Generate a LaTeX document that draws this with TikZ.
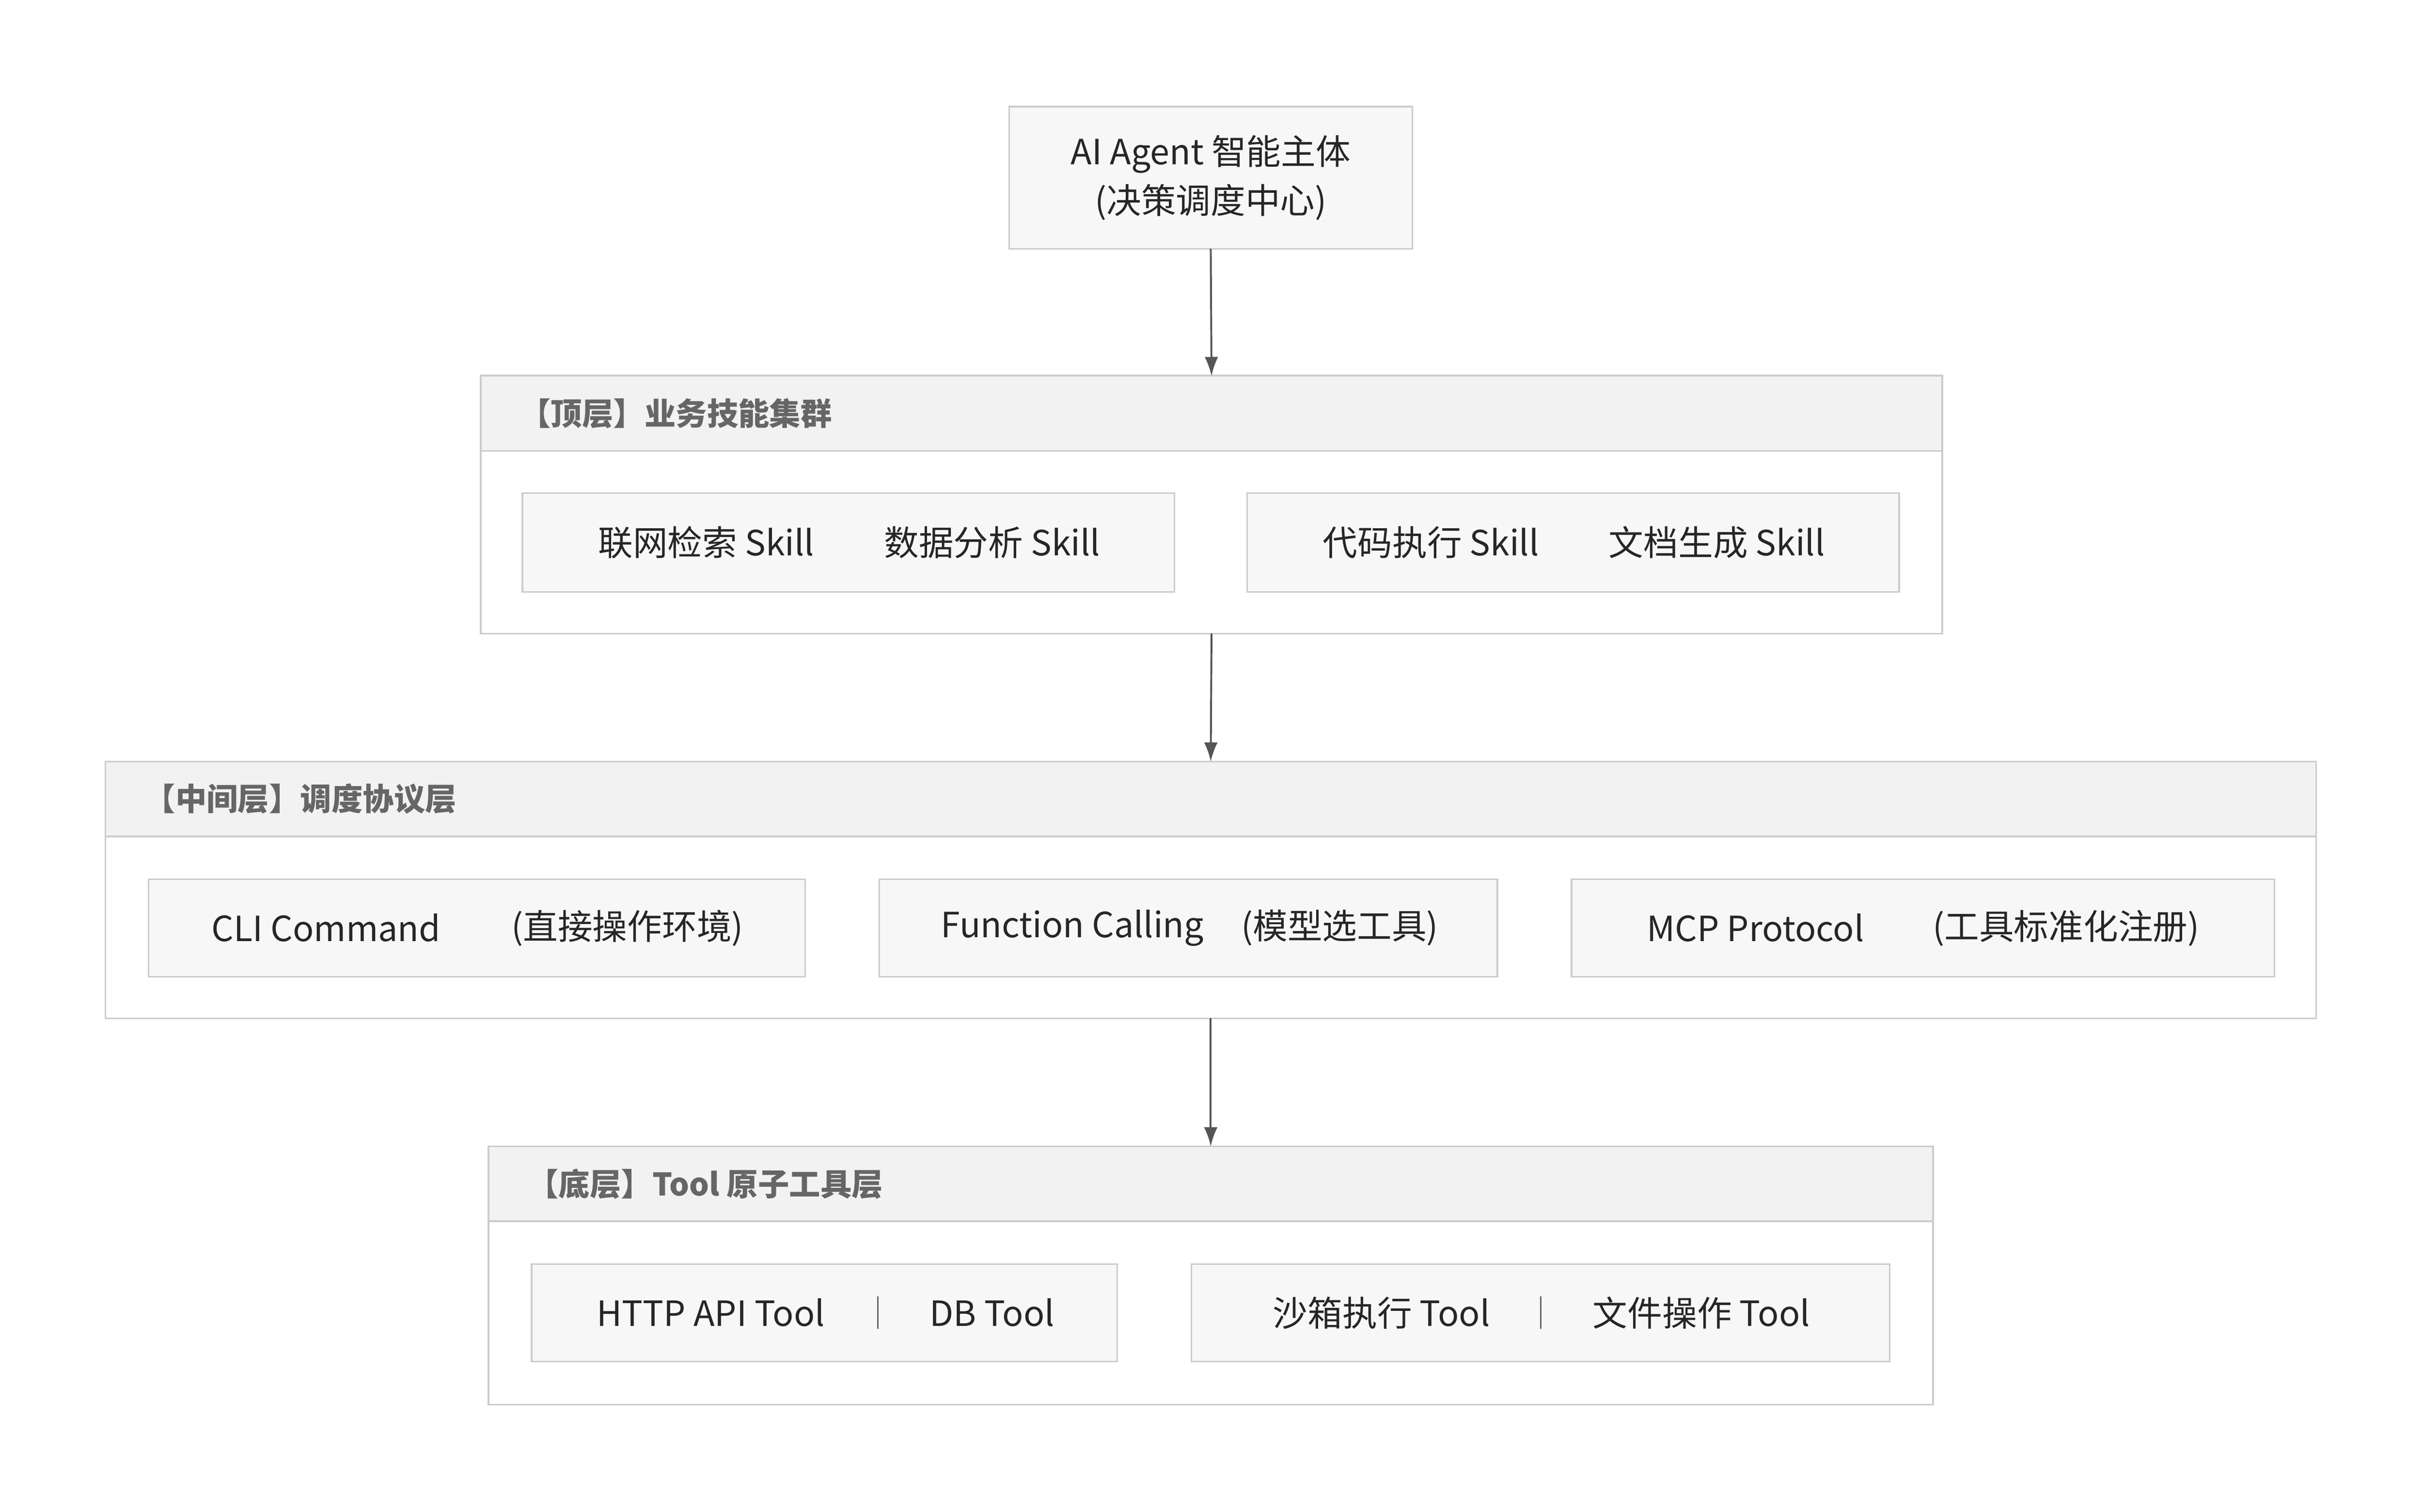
\documentclass[tikz,border=0pt]{standalone}
\usepackage{fontspec}
\setmainfont{Noto Sans CJK SC}
\usetikzlibrary{arrows.meta, positioning}
\definecolor{lineGray}{HTML}{CCCCCC}
\definecolor{boxFill}{HTML}{F7F7F7}
\definecolor{headFill}{HTML}{F2F2F2}
\definecolor{headText}{HTML}{666666}
\definecolor{arrowGray}{HTML}{555555}
\begin{document}
\begin{tikzpicture}[x=0.02cm, y=-0.02cm,
    box/.style={draw=lineGray, line width=0.6pt, fill=boxFill, inner sep=0pt, outer sep=0pt},
    group/.style={draw=lineGray, line width=0.6pt, fill=white, inner sep=0pt, outer sep=0pt},
    head/.style={draw=lineGray, line width=0.6pt, fill=headFill, inner sep=0pt, outer sep=0pt, minimum height=0.97cm},
    headlabel/.style={anchor=west, inner sep=0pt, text=headText, font=\fontsize{11.5}{14}\selectfont\bfseries},
    label/.style={inner sep=0pt, text=black!85, font=\fontsize{12.8}{16}\selectfont},
    flow/.style={-{Latex[length=7pt, width=5pt]}, arrowGray, line width=0.7pt}
]
    \useasboundingbox (0,0) rectangle (1568,978.3);

    % Agent
    \node[box, minimum width=5.22cm, minimum height=1.84cm, align=center, label, font=\fontsize{12.8}{18}\selectfont] (agent) at (783.5,115) {AI Agent 智能主体\\(决策调度中心)};

    % Top layer
    \node[group, minimum width=18.92cm, minimum height=3.34cm] (top) at (784,326.5) {};
    \node[head, minimum width=18.92cm] (topHead) at (784,267.5) {};
    \node[headlabel] (topTitle) at (336,267.5) {【顶层】业务技能集群};
    \node[box, minimum width=8.44cm, minimum height=1.28cm] (skillA) at (549,351) {};
    \node[box, minimum width=8.44cm, minimum height=1.28cm] (skillB) at (1018,351) {};
    \node[label] (search) at (457,351) {联网检索 Skill};
    \node[label] (analysis) at (642,351) {数据分析 Skill};
    \node[label] (exec) at (926,351) {代码执行 Skill};
    \node[label] (doc) at (1111,351) {文档生成 Skill};

    % Middle layer
    \node[group, minimum width=28.62cm, minimum height=3.32cm] (mid) at (783.5,576) {};
    \node[head, minimum width=28.62cm] (midHead) at (783.5,517) {};
    \node[headlabel] (midTitle) at (93,517) {【中间层】调度协议层};
    \node[box, minimum width=8.5cm, minimum height=1.26cm] (cli) at (308.5,600.5) {};
    \node[box, minimum width=8.0cm, minimum height=1.26cm] (func) at (769,600.5) {};
    \node[box, minimum width=9.1cm, minimum height=1.26cm] (mcp) at (1244.5,600.5) {};
    \node[label] (cliName) at (211,600.5) {CLI Command};
    \node[label] (cliNote) at (406,600.5) {(直接操作环境)};
    \node[label] (funcName) at (694,600.5) {Function Calling};
    \node[label] (funcNote) at (867,600.5) {(模型选工具)};
    \node[label] (mcpName) at (1136,600.5) {MCP Protocol};
    \node[label] (mcpNote) at (1337,600.5) {(工具标准化注册)};

    % Bottom layer
    \node[group, minimum width=18.7cm, minimum height=3.34cm] (bot) at (783.5,825.5) {};
    \node[head, minimum width=18.7cm] (botHead) at (783.5,766) {};
    \node[headlabel] (botTitle) at (341,766) {【底层】Tool 原子工具层};
    \node[box, minimum width=7.58cm, minimum height=1.26cm] (toolA) at (533.5,849.5) {};
    \node[box, minimum width=9.04cm, minimum height=1.26cm] (toolB) at (997,849.5) {};
    \node[label] (http) at (460,849.5) {HTTP API Tool};
    \node[label] (db) at (642,849.5) {DB Tool};
    \node[label] (sandbox) at (894,849.5) {沙箱执行 Tool};
    \node[label] (file) at (1101,849.5) {文件操作 Tool};
    \draw[black!60, line width=0.5pt] (568,839) -- (568,860);
    \draw[black!60, line width=0.5pt] (997,839) -- (997,860);

    % Connectors
    \draw[flow] (agent.south) -- (topHead.north);
    \draw[flow] (top.south) -- (midHead.north);
    \draw[flow] (mid.south) -- (botHead.north);
\end{tikzpicture}
\end{document}
